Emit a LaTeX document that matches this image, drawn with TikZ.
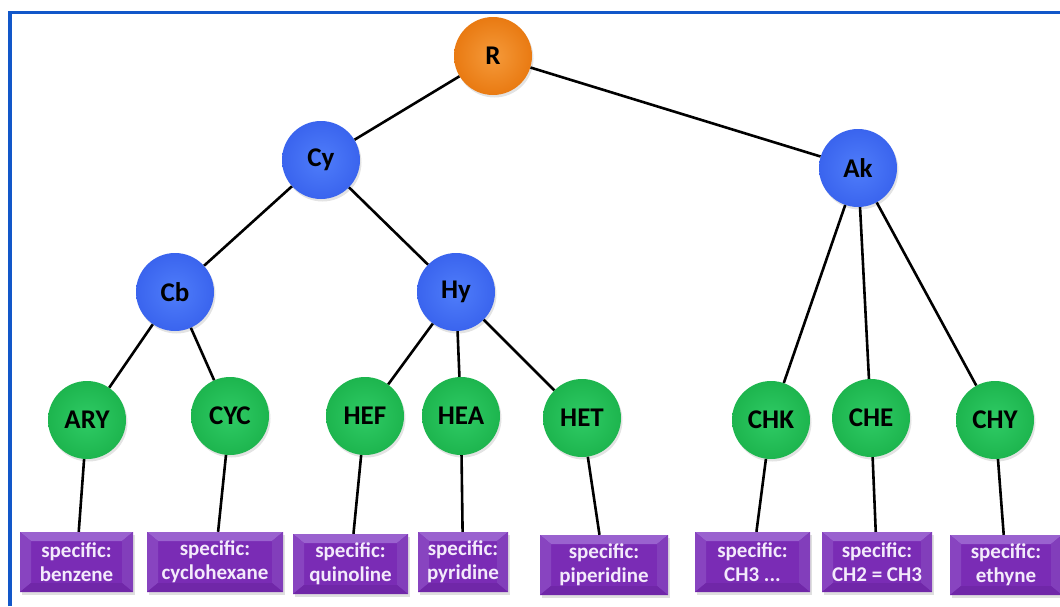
\documentclass[tikz,border=0pt]{standalone}
\usepackage{fontspec}
\setmainfont{Carlito}
\usetikzlibrary{shadows}

\definecolor{frameblue}{HTML}{1257C9}
\definecolor{orangein}{HTML}{F59A3A}
\definecolor{orangeout}{HTML}{E97A12}
\definecolor{bluein}{HTML}{4F7DFA}
\definecolor{blueout}{HTML}{3A64EE}
\definecolor{greenin}{HTML}{2FCB65}
\definecolor{greenout}{HTML}{1DB54E}
\definecolor{specfill}{HTML}{7A2CB5}
\definecolor{spectop}{HTML}{9A62CF}
\definecolor{specleft}{HTML}{8844C0}
\definecolor{specright}{HTML}{823EBB}
\definecolor{specbottom}{HTML}{7027A8}
\definecolor{spectext}{HTML}{F3EAFB}

\begin{document}
\begin{tikzpicture}[x=1pt,y=-1pt,
  ball/.style={circle,minimum size=78pt,inner sep=0pt,
    font=\bfseries\fontsize{27}{29}\selectfont,
    drop shadow={opacity=0.22,shadow xshift=1.5pt,shadow yshift=-2.5pt}},
  rootball/.style={ball,inner color=orangein,outer color=orangeout},
  midball/.style={ball,inner color=bluein,outer color=blueout},
  leafball/.style={ball,inner color=greenin,outer color=greenout},
  specbox/.style={rectangle,minimum height=60pt,inner sep=0pt,align=center,
    fill=specfill,text=spectext,font=\bfseries\fontsize{21}{24}\selectfont,
    drop shadow={opacity=0.25,shadow xshift=1.5pt,shadow yshift=-3pt},
    path picture={
      \fill[spectop] (path picture bounding box.north west)--(path picture bounding box.north east)
        --([xshift=-11pt,yshift=-9pt]path picture bounding box.north east)--([xshift=11pt,yshift=-9pt]path picture bounding box.north west)--cycle;
      \fill[specleft] (path picture bounding box.north west)--([xshift=11pt,yshift=-9pt]path picture bounding box.north west)
        --([xshift=11pt,yshift=9pt]path picture bounding box.south west)--(path picture bounding box.south west)--cycle;
      \fill[specright] (path picture bounding box.north east)--([xshift=-11pt,yshift=-9pt]path picture bounding box.north east)
        --([xshift=-11pt,yshift=9pt]path picture bounding box.south east)--(path picture bounding box.south east)--cycle;
      \fill[specbottom] (path picture bounding box.south west)--([xshift=11pt,yshift=9pt]path picture bounding box.south west)
        --([xshift=-11pt,yshift=9pt]path picture bounding box.south east)--(path picture bounding box.south east)--cycle;
    }},
  link/.style={line width=2.6pt,black}]
\useasboundingbox (0,0) rectangle (1060,606);
\draw[frameblue,line width=3.5pt] (10,606)--(10,12.5)--(1062,12.5);

% tree of circles
\node[rootball] (R) at (493,56){R};
\node[midball] (Cy) at (321,160){Cy};\node[midball] (Ak) at (858,168){Ak};
\node[midball] (Cb) at (175,292){Cb};\node[midball] (Hy) at (456,292){Hy};
\node[leafball] (ARY) at (87,420){ARY};\node[leafball] (CYC) at (230,416){CYC};
\node[leafball] (HEF) at (365,416){HEF};\node[leafball] (HEA) at (461,416){HEA};\node[leafball] (HET) at (582,418){HET};
\node[leafball] (CHK) at (771,420){CHK};\node[leafball] (CHE) at (871,418){CHE};\node[leafball] (CHY) at (995,420){CHY};

% specific boxes
\node[specbox,minimum width=113pt] (sARY) at (76.5,562){specific:\\benzene};
\node[specbox,minimum width=136pt] (sCYC) at (215,562){specific:\\cyclohexane};
\node[specbox,minimum width=115pt] (sHEF) at (350.5,564){specific:\\quinoline};
\node[specbox,minimum width=90pt] (sHEA) at (463,562){specific:\\pyridine};
\node[specbox,minimum width=128pt] (sHET) at (604,565){specific:\\piperidine};
\node[specbox,minimum width=115pt] (sCHK) at (752.5,562){specific:\\CH3 ...};
\node[specbox,minimum width=110pt] (sCHE) at (877,562){specific:\\CH2 = CH3};
\node[specbox,minimum width=112pt] (sCHY) at (1006,565){specific:\\ethyne};

\draw[link] (R)--(Cy);\draw[link] (R)--(Ak);
\draw[link] (Cy)--(Cb);\draw[link] (Cy)--(Hy);
\draw[link] (Cb)--(ARY);\draw[link] (Cb)--(CYC);
\draw[link] (Hy)--(HEF);\draw[link] (Hy)--(HEA);\draw[link] (Hy)--(HET);
\draw[link] (Ak)--(CHK);\draw[link] (Ak)--(CHE);\draw[link] (Ak)--(CHY);
\foreach \n in {ARY,CYC,HEF,HEA,HET,CHK,CHE,CHY}{\draw[link] (\n)--(s\n);}
\end{tikzpicture}
\end{document}
